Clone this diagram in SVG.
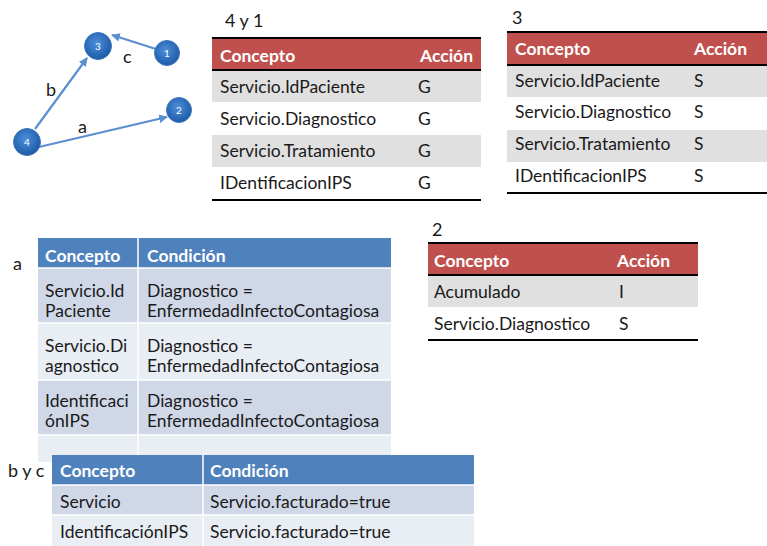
<svg xmlns="http://www.w3.org/2000/svg" width="767" height="546" viewBox="0 0 767 546">
<style>
text{font-family:Lato,"Open Sans","Liberation Sans",sans-serif;font-size:17.5px;fill:#1a1a1a}
.hd{font-weight:bold;fill:#ffffff}
.lbl{font-size:18px}
.num{font-size:10px;fill:#ffffff;text-anchor:middle}
.red{fill:#c0504d}
.gray{fill:#e0e0e0}
.blue{fill:#4f81bd}
.b1{fill:#d0d8e8}
.b2{fill:#e9edf4}
.rule{stroke:#000;stroke-width:2}
.sep{stroke:#fff;stroke-width:1.5}
.edge{stroke:#5b8fcf;stroke-width:2.2;fill:none;marker-end:url(#arr)}
.node{fill:url(#ng);stroke:#3e77bf;stroke-width:1}
</style>
<defs>
<radialGradient id="ng" cx="0.45" cy="0.4" r="0.6">
<stop offset="0" stop-color="#4d8fdc"/>
<stop offset="1" stop-color="#1d5aa6"/>
</radialGradient>
<marker id="arr" viewBox="0 0 10 10" refX="9" refY="5" markerWidth="4" markerHeight="4" orient="auto" markerUnits="strokeWidth">
<path d="M0,0 L10,5 L0,10 z" fill="#5b8fcf"/>
</marker>
</defs>

<g id="connectors">
<line class="edge" x1="156" y1="49" x2="112" y2="35"/>
<line class="edge" x1="35" y1="129" x2="87" y2="58"/>
<line class="edge" x1="39" y1="147" x2="167" y2="117"/>
<text class="lbl" x="123" y="63">c</text>
<text class="lbl" x="46" y="96">b</text>
<text class="lbl" x="78" y="133">a</text>
</g>

<g id="node-3"><circle class="node" cx="98" cy="46" r="13.5"/><text class="num" x="98" y="50">3</text></g>
<g id="node-1"><circle class="node" cx="167" cy="53" r="12.5"/><text class="num" x="167" y="57">1</text></g>
<g id="node-2"><circle class="node" cx="179" cy="110" r="12.5"/><text class="num" x="179" y="114">2</text></g>
<g id="node-4"><circle class="node" cx="27" cy="142" r="13.5"/><text class="num" x="27" y="146">4</text></g>

<g id="table-4y1">
<text class="lbl" x="225" y="27">4 y 1</text>
<rect class="red" x="212" y="37" width="269" height="33"/>
<rect class="gray" x="212" y="70" width="269" height="32"/>
<rect class="gray" x="212" y="135" width="269" height="32"/>
<line class="rule" x1="212" y1="38" x2="481" y2="38"/>
<line class="rule" x1="212" y1="70" x2="481" y2="70" stroke-width="1.5"/>
<line class="rule" x1="212" y1="200" x2="481" y2="200"/>
<text class="hd" x="220" y="62">Concepto</text>
<text class="hd" x="420" y="62">Acción</text>
<text x="220" y="93">Servicio.IdPaciente</text><text x="418" y="93">G</text>
<text x="220" y="125">Servicio.Diagnostico</text><text x="418" y="125">G</text>
<text x="220" y="157">Servicio.Tratamiento</text><text x="418" y="157">G</text>
<text x="220" y="189">IDentificacionIPS</text><text x="418" y="189">G</text>
</g>

<g id="table-3">
<text class="lbl" x="512" y="24">3</text>
<rect class="red" x="507" y="31" width="260" height="34"/>
<rect class="gray" x="507" y="65" width="260" height="32"/>
<rect class="gray" x="507" y="130" width="260" height="32"/>
<line class="rule" x1="507" y1="32" x2="767" y2="32"/>
<line class="rule" x1="507" y1="65" x2="767" y2="65" stroke-width="1.5"/>
<line class="rule" x1="507" y1="193" x2="767" y2="193"/>
<text class="hd" x="515" y="55">Concepto</text>
<text class="hd" x="694" y="55">Acción</text>
<text x="515" y="87">Servicio.IdPaciente</text><text x="694" y="87">S</text>
<text x="515" y="118">Servicio.Diagnostico</text><text x="694" y="118">S</text>
<text x="515" y="150">Servicio.Tratamiento</text><text x="694" y="150">S</text>
<text x="515" y="182">IDentificacionIPS</text><text x="694" y="182">S</text>
</g>

<g id="table-2">
<text class="lbl" x="432" y="236">2</text>
<rect class="red" x="428" y="242" width="270" height="33"/>
<rect class="gray" x="428" y="275" width="270" height="32"/>
<line class="rule" x1="428" y1="243" x2="698" y2="243"/>
<line class="rule" x1="428" y1="275" x2="698" y2="275" stroke-width="1.5"/>
<line class="rule" x1="428" y1="340" x2="698" y2="340"/>
<text class="hd" x="434" y="267">Concepto</text>
<text class="hd" x="617" y="267">Acción</text>
<text x="434" y="298">Acumulado</text><text x="619" y="298">I</text>
<text x="434" y="330">Servicio.Diagnostico</text><text x="619" y="330">S</text>
</g>

<g id="table-a">
<text class="lbl" x="13" y="270">a</text>
<rect class="blue" x="38" y="238" width="353" height="30"/>
<rect class="b1" x="38" y="268" width="353" height="55"/>
<rect class="b2" x="38" y="323" width="353" height="57"/>
<rect class="b1" x="38" y="380" width="353" height="55"/>
<rect class="b2" x="38" y="435" width="353" height="27"/>
<line class="sep" x1="138" y1="238" x2="138" y2="462"/>
<line class="sep" x1="38" y1="268" x2="391" y2="268"/>
<line class="sep" x1="38" y1="323" x2="391" y2="323"/>
<line class="sep" x1="38" y1="380" x2="391" y2="380"/>
<line class="sep" x1="38" y1="435" x2="391" y2="435"/>
<text class="hd" x="45" y="262">Concepto</text>
<text class="hd" x="147" y="262">Condición</text>
<text x="45" y="297">Servicio.Id</text><text x="45" y="317">Paciente</text>
<text x="147" y="297">Diagnostico =</text><text x="147" y="317">EnfermedadInfectoContagiosa</text>
<text x="45" y="352">Servicio.Di</text><text x="45" y="372">agnostico</text>
<text x="147" y="352">Diagnostico =</text><text x="147" y="372">EnfermedadInfectoContagiosa</text>
<text x="45" y="407">Identificaci</text><text x="45" y="427">ónIPS</text>
<text x="147" y="407">Diagnostico =</text><text x="147" y="427">EnfermedadInfectoContagiosa</text>
</g>

<g id="table-byc">
<text class="lbl" x="8" y="477">b y c</text>
<rect class="blue" x="52" y="455" width="422" height="30"/>
<rect class="b1" x="52" y="485" width="422" height="30"/>
<rect class="b2" x="52" y="515" width="422" height="31"/>
<line class="sep" x1="203" y1="455" x2="203" y2="546"/>
<line class="sep" x1="52" y1="485" x2="474" y2="485"/>
<line class="sep" x1="52" y1="515" x2="474" y2="515"/>
<text class="hd" x="60" y="477">Concepto</text>
<text class="hd" x="210" y="477">Condición</text>
<text x="60" y="508">Servicio</text><text x="210" y="508">Servicio.facturado=true</text>
<text x="60" y="538">IdentificaciónIPS</text><text x="210" y="538">Servicio.facturado=true</text>
</g>
</svg>
